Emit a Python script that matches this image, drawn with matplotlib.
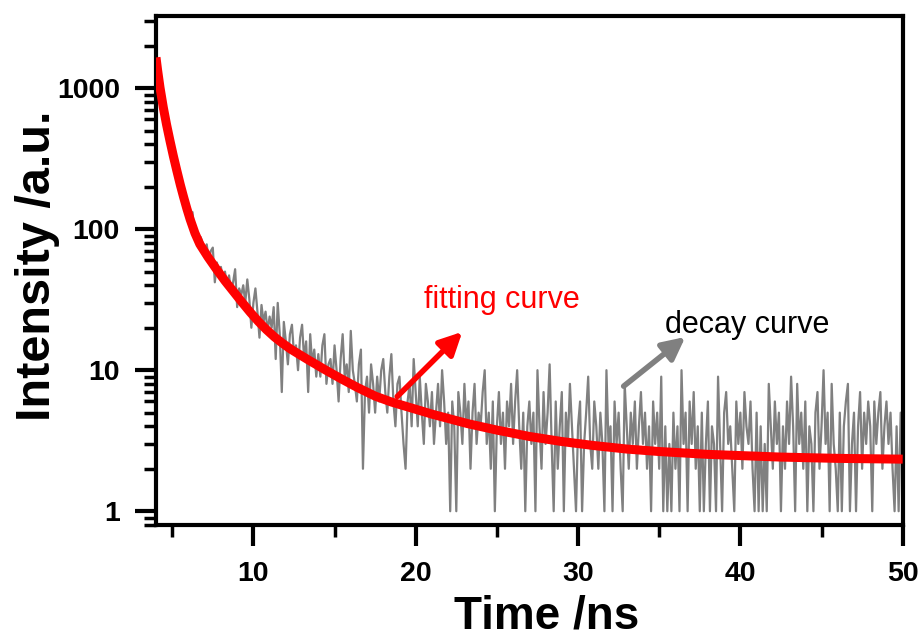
import numpy as np
import matplotlib
matplotlib.use('Agg')
import matplotlib.pyplot as plt
from matplotlib.ticker import FixedLocator, LogLocator, NullFormatter

plt.rcParams['font.family'] = ['Liberation Sans', 'DejaVu Sans']

# measured decay: channels every 0.125 ns from 4 ns to 50 ns
t_start, t_step = 4.0, 0.125
decay_counts = [
    # 4.0 - 5.875
    1650, 1340, 1090, 880, 710, 590, 495, 420, 362, 312, 270, 236, 206, 180, 160, 142,
    # 6.0 - 7.875
    122, 118, 132, 92, 98, 74, 88, 80, 66, 78, 60, 70, 74, 42, 58, 50,
    # 8.0 - 9.875
    54, 44, 50, 40, 47, 36, 42, 52, 28, 38, 34, 40, 30, 44, 32, 20,
    # 10.0 - 11.875
    30, 38, 26, 17, 29, 22, 26, 19, 24, 20, 28, 12, 30, 18, 7, 22,
    # 12.0 - 13.875
    16, 11, 18, 21, 13, 15, 10, 17, 21, 12, 16, 7, 18, 11, 14, 9,
    # 14.0 - 15.875
    13, 9, 15, 18, 8, 11, 12, 8, 15, 10, 6, 12, 18, 9, 11, 7,
    # 16.0 - 17.875
    19, 10, 8, 6, 11, 14, 2, 7, 9, 5, 11, 8, 5, 9, 6, 10,
    # 18.0 - 19.875
    12, 7, 5, 9, 13, 6, 4, 8, 9, 5, 3, 2, 6, 8, 4, 12,
    # 20.0 - 21.875
    7, 4, 9, 5, 3, 8, 6, 4, 7, 3, 5, 8, 4, 10, 6, 3,
    # 22.0 - 23.875
    5, 1, 6, 4, 1, 7, 5, 3, 8, 4, 6, 2, 5, 8, 3, 5,
    # 24.0 - 25.875
    4, 7, 10, 3, 5, 2, 6, 1, 4, 7, 3, 5, 2, 6, 4, 8,
    # 26.0 - 27.875
    3, 6, 10, 4, 2, 5, 1, 4, 6, 3, 5, 1, 10, 4, 2, 7,
    # 28.0 - 29.875
    3, 5, 11, 3, 1, 6, 2, 4, 7, 1, 5, 3, 8, 4, 2, 1,
    # 30.0 - 31.875
    4, 6, 1, 3, 5, 9, 3, 2, 6, 4, 2, 5, 3, 1, 10, 3,
    # 32.0 - 33.875
    4, 1, 6, 3, 5, 2, 1, 8, 4, 2, 5, 3, 6, 2, 4, 7,
    # 34.0 - 35.875
    3, 5, 2, 4, 1, 6, 3, 5, 2, 9, 1, 4, 1, 3, 1, 5,
    # 36.0 - 37.875
    2, 4, 1, 10, 3, 5, 1, 6, 3, 7, 2, 4, 1, 5, 1, 3,
    # 38.0 - 39.875
    6, 1, 4, 3, 1, 9, 3, 1, 5, 7, 3, 4, 2, 1, 6, 3,
    # 40.0 - 41.875
    5, 2, 7, 4, 3, 6, 2, 1, 5, 1, 4, 1, 3, 1, 8, 4,
    # 42.0 - 43.875
    2, 6, 3, 5, 1, 4, 2, 6, 3, 9, 4, 1, 8, 3, 5, 2,
    # 44.0 - 45.875
    6, 1, 4, 3, 1, 5, 7, 2, 4, 10, 3, 5, 1, 8, 3, 2,
    # 46.0 - 47.875
    1, 5, 1, 4, 6, 8, 1, 3, 5, 1, 4, 7, 2, 5, 3, 6,
    # 48.0 - 50.0
    4, 1, 6, 3, 5, 7, 2, 4, 6, 3, 5, 2, 1, 4, 1, 5, 3,
]
decay_time = t_start + t_step * np.arange(len(decay_counts))

# fitted curve
fit_time = [4.0, 4.1, 4.25, 4.45, 4.65, 4.86, 5.07, 5.28, 5.5, 5.7, 5.9, 6.1,
            6.4, 6.7, 7.2, 7.7, 8.25, 8.8, 9.3, 9.8, 10.3, 10.8, 11.3, 11.8,
            12.3, 12.8, 13.4, 14.4, 15.4, 16.4, 17.5, 18.5, 19.4, 21.0, 23.2,
            25.0, 27.0, 29.0, 31.0, 33.0, 35.0, 38.0, 42.5, 46.0, 50.0]
fit_values = [1650, 1337, 1005, 730, 552, 424, 330, 261, 206, 169, 140, 117.7,
              93.7, 78.3, 63.5, 52.5, 43, 35.8, 30.3, 25.8, 22.2, 19.4, 17.2, 15.5,
              14.1, 13.0, 11.8, 10.1, 8.7, 7.55, 6.55, 5.95, 5.54, 4.88, 4.18,
              3.76, 3.39, 3.12, 2.92, 2.76, 2.65, 2.53, 2.42, 2.37, 2.34]

y_ticks = [1, 10, 100, 1000]
y_ticklabels = ['1', '10', '100', '1000']
x_ticks = [10, 20, 30, 40, 50]

fig = plt.figure(figsize=(9.23, 6.37), dpi=100)
ax = fig.add_axes([0.169, 0.176, 0.809, 0.799])

ax.plot(decay_time, decay_counts, color='#808080', lw=1.6, zorder=2)
ax.plot(fit_time, fit_values, color='#ff0000', lw=6.5, solid_capstyle='butt',
        solid_joinstyle='round', zorder=3)

ax.set_yscale('log')
ax.set_xlim(4, 50)
ax.set_ylim(0.8, 3250)

ax.yaxis.set_major_locator(FixedLocator(y_ticks))
ax.set_yticklabels(y_ticklabels)
ax.yaxis.set_minor_locator(LogLocator(base=10, subs=np.arange(2, 10)))
ax.yaxis.set_minor_formatter(NullFormatter())
ax.xaxis.set_major_locator(FixedLocator(x_ticks))
ax.xaxis.set_minor_locator(FixedLocator([5, 15, 25, 35, 45]))

for sp in ax.spines.values():
    sp.set_linewidth(3)
ax.tick_params(which='major', direction='out', length=15, width=3, pad=11,
               labelsize=20.5, top=False, right=False)
ax.tick_params(which='minor', direction='out', length=8.5, width=2.5,
               top=False, right=False)
for lab in ax.get_xticklabels() + ax.get_yticklabels():
    lab.set_fontweight('bold')

ax.set_xlabel('Time /ns', fontsize=33, fontweight='bold')
ax.set_ylabel('Intensity /a.u.', fontsize=35, fontweight='bold')
ax.xaxis.set_label_coords(0.523, -0.137)
ax.yaxis.set_label_coords(-0.128, 0.51)

# annotations
ax.annotate('', xy=(22.87, 18.7), xytext=(18.86, 6.5),
            arrowprops=dict(arrowstyle='-|>', color='#ff0000', lw=4,
                            mutation_scale=34, shrinkA=0, shrinkB=0), zorder=4)
ax.text(25.33, 31.6, 'fitting curve', color='#ff0000', fontsize=22,
        ha='center', va='center', zorder=4)
ax.annotate('', xy=(36.61, 17.2), xytext=(32.81, 7.7),
            arrowprops=dict(arrowstyle='-|>', color='#808080', lw=4,
                            mutation_scale=34, shrinkA=0, shrinkB=0), zorder=4)
ax.text(40.44, 21, 'decay curve', color='black', fontsize=22,
        ha='center', va='center', zorder=4)

fig.savefig('out.png', dpi=100)
